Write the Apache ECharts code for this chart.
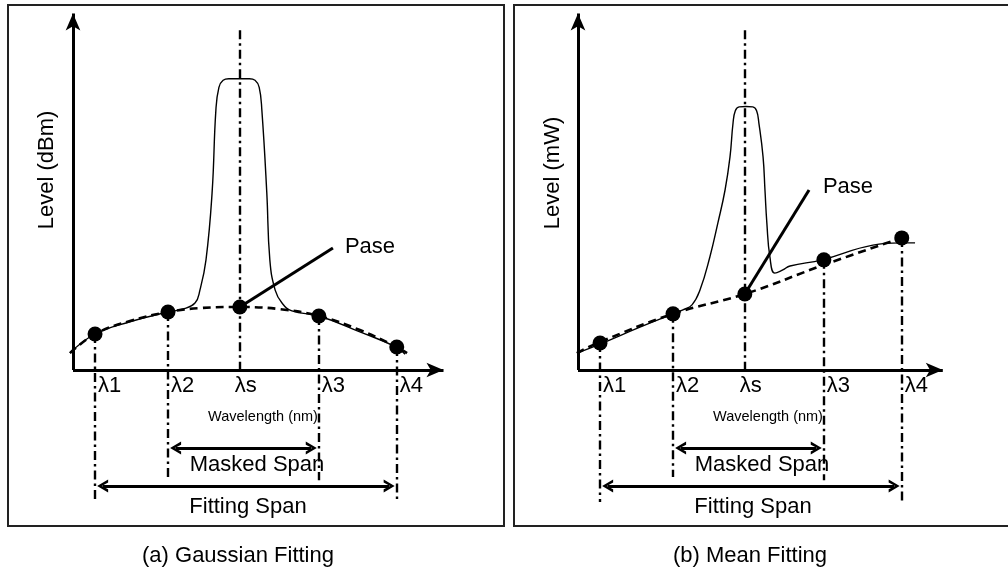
<!DOCTYPE html>
<html>
<head>
<meta charset="utf-8">
<script src="https://cdn.jsdelivr.net/npm/echarts@6/dist/echarts.min.js"></script>
<style>html,body{margin:0;padding:0;background:#fff;}#c{width:1008px;height:570px;}</style>
</head>
<body>
<div id="c"></div>
<script>
// ---- data (abstract wavelength / level units) ----
const lambdaNames = ['λ1', 'λ2', 'λs', 'λ3', 'λ4'];
const lambdaPos   = [0.58, 2.5, 4.39, 6.47, 8.52];
const markerBottom = [-3.67, -2.97, 0, -3.06, -3.69];
const lambdaSTop = 9.44;
const maskedSpanLevel = -2.17;
const fittingSpanLevel = -3.22;

// (a) Gaussian fitting, level in dBm
const gaussSpecX = [-0.08, 0.58, 1.5, 2.5, 2.89, 3.21, 3.34, 3.5, 3.66, 3.76, 3.84, 3.95, 4.1, 4.37, 4.64, 4.79, 4.9, 4.97, 5.1, 5.18, 5.32, 5.5, 5.76, 6.47, 7.55, 8.5, 8.74];
const gaussSpecY = [0.47, 1.0, 1.34, 1.61, 1.69, 1.86, 2.22, 3.06, 4.92, 7.22, 7.85, 8.05, 8.09, 8.09, 8.09, 8.05, 7.85, 7.22, 4.92, 3.06, 2.22, 1.86, 1.64, 1.5, 1.06, 0.64, 0.44];
const gaussFitX = [-0.08, 0.58, 1.5, 2.5, 3.34, 4.39, 5.45, 6.47, 7.55, 8.52, 8.79];
const gaussFitY = [0.47, 1.0, 1.36, 1.61, 1.72, 1.75, 1.69, 1.5, 1.11, 0.64, 0.47];
const gaussPointY = [1.0, 1.61, 1.75, 1.5, 0.64];
const gaussPaseEnd = [6.84, 3.39];
const gaussAxisEnd = [9.75, 9.9];

// (b) Mean fitting, level in mW
const meanSpecX = [-0.03, 0.58, 1.63, 2.5, 2.76, 3.0, 3.21, 3.47, 3.68, 3.87, 4.0, 4.08, 4.14, 4.24, 4.42, 4.6, 4.7, 4.76, 4.87, 4.92, 4.97, 5.05, 5.18, 5.39, 5.58, 6.42, 7.76, 8.47, 8.87];
const meanSpecY = [0.47, 0.72, 1.19, 1.56, 1.67, 1.81, 2.22, 3.14, 4.08, 5.0, 5.92, 6.86, 7.2, 7.31, 7.32, 7.31, 7.2, 6.86, 5.92, 5.0, 4.08, 3.14, 2.69, 2.78, 2.89, 3.06, 3.47, 3.53, 3.53];
const meanFitX = [-0.03, 0.58, 2.5, 4.39, 6.47, 8.52];
const meanFitY = [0.47, 0.78, 1.56, 2.11, 2.92, 3.67];
const meanPointY = [0.75, 1.56, 2.11, 3.06, 3.67];
const meanPaseEnd = [6.08, 5.0];
const meanAxisEnd = [9.6, 9.9];

// ---- helpers ----
const zip = (xs, ys) => xs.map((x, i) => [x, ys[i]]);
const FONT = 'Liberation Sans, Arial, sans-serif';
const chevron = 'path://M0,10 L5,0 L10,10 L7.6,10 L5,4.2 L2.4,10 Z';
const dashDot = [9, 4, 2.5, 4];

function panelSeries(idx, specX, specY, fitX, fitY, pointY, paseEnd, axisEnd) {
  const common = { xAxisIndex: idx, yAxisIndex: idx, silent: true, animation: false };
  const markers = lambdaPos.map((x, i) => [
    { coord: [x, i === 2 ? lambdaSTop : pointY[i]] },
    { coord: [x, markerBottom[i]] }
  ]);
  return [
    Object.assign({
      type: 'line', name: 'markers', data: [], z: 1,
      markLine: {
        silent: true, symbol: ['none', 'none'], label: { show: false },
        lineStyle: { color: '#000', width: 2.4, type: dashDot },
        data: markers
      }
    }, common),
    Object.assign({
      type: 'line', name: 'axes', data: [], z: 3,
      markLine: {
        silent: true, symbol: ['none', 'arrow'], symbolSize: [11, 17], label: { show: false },
        lineStyle: { color: '#000', width: 3, type: 'solid' },
        data: [
          [{ coord: [0, 0] }, { coord: [axisEnd[0], 0] }],
          [{ coord: [0, 0] }, { coord: [0, axisEnd[1]] }]
        ]
      }
    }, common),
    Object.assign({
      type: 'line', name: 'spans', data: [], z: 3,
      markLine: {
        silent: true, symbol: [chevron, chevron], symbolSize: [13, 11], label: { show: false },
        lineStyle: { color: '#000', width: 3, type: 'solid' },
        data: [
          [{ coord: [lambdaPos[1] + 0.2, maskedSpanLevel] }, { coord: [lambdaPos[3] - 0.2, maskedSpanLevel] }],
          [{ coord: [lambdaPos[0] + 0.2, fittingSpanLevel] }, { coord: [lambdaPos[4] - 0.2, fittingSpanLevel] }]
        ]
      }
    }, common),
    Object.assign({
      type: 'line', name: 'fit', data: zip(fitX, fitY), smooth: 0.4, showSymbol: false, z: 4,
      lineStyle: { color: '#000', width: 2.6, type: [8, 5] }
    }, common),
    Object.assign({
      type: 'line', name: 'spectrum', data: zip(specX, specY), smooth: 0.45,
      showSymbol: false, z: 5,
      lineStyle: { color: '#000', width: 1.4 }
    }, common),
    Object.assign({
      type: 'line', name: 'pase', data: [[lambdaPos[2], pointY[2]], paseEnd], showSymbol: false, z: 6,
      lineStyle: { color: '#000', width: 3 }
    }, common),
    Object.assign({
      type: 'scatter', name: 'points', data: zip(lambdaPos, pointY), symbolSize: 15, z: 7,
      itemStyle: { color: '#000', opacity: 1 }
    }, common),
    Object.assign({
      type: 'scatter', name: 'labels', symbolSize: 0, z: 8,
      itemStyle: { opacity: 1 },
      data: lambdaPos.map((x, i) => ({ value: [x, -0.45], name: lambdaNames[i] })),
      label: {
        show: true, position: 'inside', align: 'left', verticalAlign: 'middle',
        formatter: p => p.name, color: '#000', opacity: 1, fontSize: 22, fontFamily: FONT,
        offset: [3, 0]
      }
    }, common)
  ];
}

function txt(text, x, y, size, rot, family) {
  return {
    type: 'text', x: x, y: y, rotation: rot || 0, silent: true,
    style: { text: text, fill: '#000', fontSize: size, fontFamily: family || FONT, align: 'center', verticalAlign: 'middle' }
  };
}

const chart = echarts.init(document.getElementById('c'), null, { renderer: 'canvas' });
const series = [].concat(
  panelSeries(0, gaussSpecX, gaussSpecY, gaussFitX, gaussFitY, gaussPointY, gaussPaseEnd, gaussAxisEnd),
  panelSeries(1, meanSpecX, meanSpecY, meanFitX, meanFitY, meanPointY, meanPaseEnd, meanAxisEnd)
);
// λs label sits slightly left of its marker
series.forEach(s => {
  if (s.name === 'labels') {
    s.data[2].label = { offset: [-5, 0] };
  }
});

const axisHidden = { show: false, type: 'value', min: -1, max: 11 };
const yHidden = { show: false, type: 'value', min: -4, max: 10 };

chart.setOption({
  animation: false,
  backgroundColor: '#fff',
  grid: [
    { left: 35, top: 10, width: 456, height: 504 },
    { left: 540, top: 10, width: 456, height: 504 }
  ],
  xAxis: [Object.assign({ gridIndex: 0 }, axisHidden), Object.assign({ gridIndex: 1 }, axisHidden)],
  yAxis: [Object.assign({ gridIndex: 0 }, yHidden), Object.assign({ gridIndex: 1 }, yHidden)],
  series: series,
  graphic: [
    { type: 'rect', silent: true, z: -1, shape: { x: 8, y: 5, width: 496, height: 521 }, style: { fill: 'none', stroke: '#222', lineWidth: 2 } },
    { type: 'rect', silent: true, z: -1, shape: { x: 514, y: 5, width: 500, height: 521 }, style: { fill: 'none', stroke: '#222', lineWidth: 2 } },
    txt('Level (dBm)', 47, 170, 22, Math.PI / 2),
    txt('Level (mW)', 553, 173, 22, Math.PI / 2),
    txt('Pase', 370, 247, 22),
    txt('Pase', 848, 187, 22),
    txt('Wavelength (nm)', 263, 417, 14.5),
    txt('Wavelength (nm)', 768, 417, 14.5),
    txt('Masked Span', 257, 465, 22),
    txt('Masked Span', 762, 465, 22),
    txt('Fitting Span', 248, 507, 22),
    txt('Fitting Span', 753, 507, 22),
    txt('(a) Gaussian Fitting', 238, 556, 22),
    txt('(b) Mean Fitting', 750, 556, 22)
  ]
});
</script>
</body>
</html>
